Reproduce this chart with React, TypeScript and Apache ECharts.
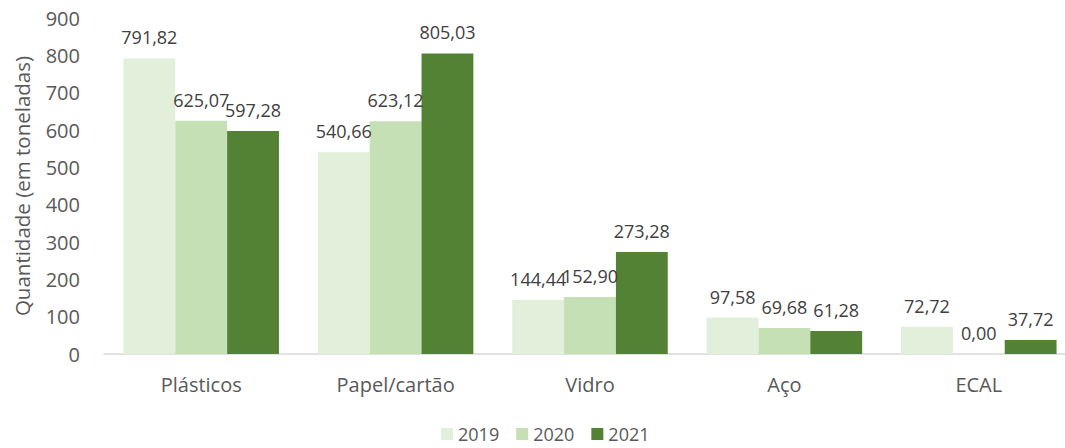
import React, { useEffect, useRef } from "react";
import * as echarts from "echarts";

const categories = ["Plásticos", "Papel/cartão", "Vidro", "Aço", "ECAL"];
const seriesNames = ["2019", "2020", "2021"];
const values2019 = [791.82, 540.66, 144.44, 97.58, 72.72];
const values2020 = [625.07, 623.12, 152.9, 69.68, 0.0];
const values2021 = [597.28, 805.03, 273.28, 61.28, 37.72];
const colors = ["#E2EFDA", "#C5E0B4", "#548235"];

const FONT = "'Open Sans', 'Noto Sans', sans-serif";

export default function App() {
  const ref = useRef<HTMLDivElement>(null);
  useEffect(() => {
    if (!ref.current) return;
    const chart = echarts.init(ref.current, undefined, { renderer: "svg" });
    const data = [values2019, values2020, values2021];
    chart.setOption({
      animation: false,
      textStyle: { fontFamily: FONT },
      grid: { left: 104, right: 0, top: 18, bottom: 94, containLabel: false },
      legend: {
        data: seriesNames,
        left: 436,
        bottom: 0,
        itemWidth: 12,
        itemHeight: 12,
        itemGap: 17,
        icon: "rect",
        textStyle: { color: "#595959", fontSize: 18, fontFamily: FONT },
      },
      xAxis: {
        type: "category",
        data: categories,
        axisLine: { lineStyle: { color: "#D9D9D9", width: 1.5 } },
        axisTick: { show: false },
        axisLabel: { color: "#595959", fontSize: 20, margin: 20, fontFamily: FONT },
      },
      yAxis: {
        type: "value",
        min: 0,
        max: 900,
        interval: 100,
        splitLine: { show: false },
        axisLine: { show: false },
        axisTick: { show: false },
        axisLabel: { color: "#595959", fontSize: 20, margin: 24, fontFamily: FONT },
        name: "Quantidade (em toneladas)",
        nameLocation: "middle",
        nameGap: 72,
        nameTextStyle: { color: "#595959", fontSize: 20.5, fontFamily: FONT },
      },
      series: seriesNames.map((name, i) => ({
        name,
        type: "bar",
        data: data[i],
        barGap: "0%",
        barCategoryGap: "20%",
        itemStyle: { color: colors[i] },
        label: {
          show: true,
          position: "top",
          distance: 12,
          color: "#404040",
          fontSize: 18,
          fontFamily: FONT,
          formatter: (p: any) => Number(p.value).toFixed(2).replace(".", ","),
        },
      })),
    });
    return () => chart.dispose();
  }, []);
  return (
    <div
      ref={ref}
      style={{ position: "fixed", left: 0, top: 0, width: 1076, height: 448, background: "#fff" }}
    />
  );
}
